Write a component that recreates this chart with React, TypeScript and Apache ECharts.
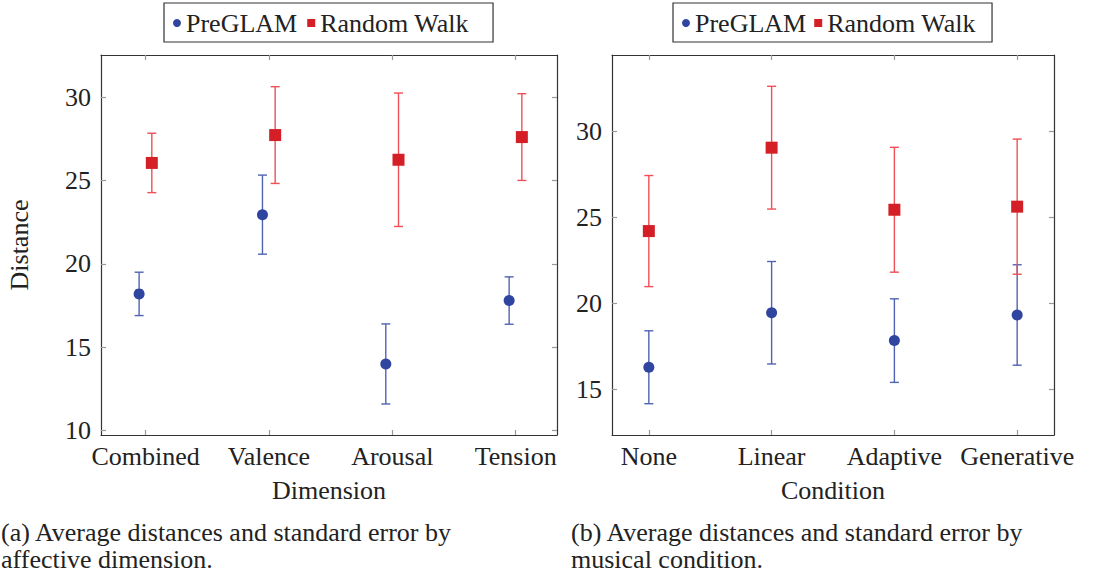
import React, { useEffect, useRef } from "react";
import * as echarts from "echarts";

// Panel (a): by affective dimension
const dimensionCategories = ["Combined", "Valence", "Arousal", "Tension"];
const preglamByDimension = [18.2, 22.95, 14.0, 17.8];
const preglamErrByDimension = [1.3, 2.37, 2.4, 1.42];
const randomByDimension = [26.05, 27.72, 26.24, 27.6];
const randomErrByDimension = [1.78, 2.9, 4.0, 2.6];

// Panel (b): by musical condition
const conditionCategories = ["None", "Linear", "Adaptive", "Generative"];
const preglamByCondition = [16.28, 19.45, 17.83, 19.32];
const preglamErrByCondition = [2.12, 2.98, 2.43, 2.92];
const randomByCondition = [24.2, 29.05, 25.44, 25.62];
const randomErrByCondition = [3.23, 3.57, 3.63, 3.93];

const yTicksA = [10, 15, 20, 25, 30];
const yTicksB = [15, 20, 25, 30];

const captionA = ["(a) Average distances and standard error by", "affective dimension."];
const captionB = ["(b) Average distances and standard error by", "musical condition."];

const FONT = "Liberation Serif";
const FS = 26;
const TEXT = "#222";
const BLUE = "#2f45a0";
const BLUE_BAR = "#4f63b2";
const RED = "#d41f27";
const RED_BAR = "#ef4f55";

const points = (vals: number[], shift: number) => vals.map((v, i) => [i + shift, v]);
const bars = (vals: number[], errs: number[], shift: number) =>
  vals.map((v, i) => [i + shift, v - errs[i], v + errs[i]]);

function errorBarRenderer(color: string) {
  return (params: any, api: any) => {
    const x = api.value(0);
    const hi = api.coord([x, api.value(2)]);
    const lo = api.coord([x, api.value(1)]);
    const cap = 4.5;
    const style = { stroke: color, lineWidth: 1.4 };
    return {
      type: "group",
      children: [
        { type: "line", shape: { x1: hi[0], y1: hi[1], x2: lo[0], y2: lo[1] }, style },
        { type: "line", shape: { x1: hi[0] - cap, y1: hi[1], x2: hi[0] + cap, y2: hi[1] }, style },
        { type: "line", shape: { x1: lo[0] - cap, y1: lo[1], x2: lo[0] + cap, y2: lo[1] }, style },
      ],
    };
  };
}

const tickStyle = { inside: true, length: 5, lineStyle: { color: "#999", width: 1.2 } };
const frameLine = { show: true, onZero: false, lineStyle: { color: "#333", width: 1.2 } };

function xAxes(gridIndex: number, min: number, max: number, cats: string[], name: string) {
  const ticks = cats.map((_, i) => i);
  return [
    {
      type: "value", gridIndex, min, max, position: "bottom",
      axisLine: frameLine,
      axisTick: { ...tickStyle, customValues: ticks },
      axisLabel: {
        fontFamily: FONT, fontSize: FS, color: TEXT, margin: 8,
        customValues: ticks, formatter: (v: number) => cats[Math.round(v)],
      },
      splitLine: { show: false },
      name, nameLocation: "middle", nameGap: 42,
      nameTextStyle: { fontFamily: FONT, fontSize: FS, color: TEXT },
    },
    {
      type: "value", gridIndex, min, max, position: "top",
      axisLine: frameLine,
      axisTick: { ...tickStyle, customValues: ticks },
      axisLabel: { show: false },
      splitLine: { show: false },
    },
  ];
}

function yAxes(gridIndex: number, min: number, max: number, ticks: number[], name?: string) {
  return [
    {
      type: "value", gridIndex, min, max, position: "left",
      axisLine: frameLine,
      axisTick: { ...tickStyle, customValues: ticks },
      axisLabel: { fontFamily: FONT, fontSize: FS, color: TEXT, margin: 10, customValues: ticks },
      splitLine: { show: false },
      name, nameLocation: "middle", nameGap: 69,
      nameTextStyle: { fontFamily: FONT, fontSize: FS, color: TEXT },
    },
    {
      type: "value", gridIndex, min, max, position: "right",
      axisLine: frameLine,
      axisTick: { ...tickStyle, customValues: ticks },
      axisLabel: { show: false },
      splitLine: { show: false },
    },
  ];
}

function panelSeries(
  xAxisIndex: number, yAxisIndex: number,
  pre: number[], preErr: number[], rnd: number[], rndErr: number[],
  preShift: number, rndShift: number
) {
  return [
    {
      type: "custom", name: "PreGLAM error", xAxisIndex, yAxisIndex, z: 2,
      renderItem: errorBarRenderer(BLUE_BAR), data: bars(pre, preErr, preShift),
    },
    {
      type: "custom", name: "Random Walk error", xAxisIndex, yAxisIndex, z: 2,
      renderItem: errorBarRenderer(RED_BAR), data: bars(rnd, rndErr, rndShift),
    },
    {
      type: "scatter", name: "PreGLAM", xAxisIndex, yAxisIndex, z: 3,
      symbol: "circle", symbolSize: 11, itemStyle: { color: BLUE, opacity: 1 },
      data: points(pre, preShift),
    },
    {
      type: "scatter", name: "Random Walk", xAxisIndex, yAxisIndex, z: 3,
      symbol: "rect", symbolSize: 12, itemStyle: { color: RED, opacity: 1 },
      data: points(rnd, rndShift),
    },
  ];
}

const legendBase = {
  top: 3,
  orient: "horizontal",
  data: [
    { name: "PreGLAM", icon: "circle" },
    { name: "Random Walk", icon: "rect" },
  ],
  itemWidth: 8,
  itemHeight: 8,
  borderColor: "#333",
  borderWidth: 1.2,
  textStyle: { fontFamily: FONT, fontSize: FS, color: TEXT },
  selectedMode: false,
};

function buildOption() {
  return {
    animation: false,
    legend: [
      { ...legendBase, left: 164, itemGap: 10, padding: [7, 24, 6, 9] },
      { ...legendBase, left: 673, itemGap: 8, padding: [7, 16, 6, 9] },
    ],
    grid: [
      { left: 101, top: 55, width: 456, height: 380 },
      { left: 612, top: 55, width: 442, height: 380 },
    ],
    xAxis: [
      ...xAxes(0, -0.362, 3.335, dimensionCategories, "Dimension"),
      ...xAxes(1, -0.3, 3.3, conditionCategories, "Condition"),
    ],
    yAxis: [
      ...yAxes(0, 9.74, 32.52, yTicksA, "Distance"),
      ...yAxes(1, 12.34, 34.44, yTicksB),
    ],
    series: [
      ...panelSeries(0, 0, preglamByDimension, preglamErrByDimension,
        randomByDimension, randomErrByDimension, -0.053, 0.05),
      ...panelSeries(2, 2, preglamByCondition, preglamErrByCondition,
        randomByCondition, randomErrByCondition, 0, 0),
    ],
  };
}

const captionBox = (left: number): React.CSSProperties => ({
  position: "absolute",
  left,
  top: 519,
  fontFamily: FONT,
  fontSize: 26,
  lineHeight: "27px",
  color: TEXT,
  whiteSpace: "nowrap",
});

export default function App() {
  const ref = useRef<HTMLDivElement>(null);

  useEffect(() => {
    if (!ref.current) return;
    const chart = echarts.init(ref.current, null, { renderer: "svg" });
    chart.setOption(buildOption());
    let alive = true;
    if (document.fonts && document.fonts.ready) {
      document.fonts.ready.then(() => {
        if (alive) chart.setOption(buildOption(), true);
      });
    }
    return () => {
      alive = false;
      chart.dispose();
    };
  }, []);

  return (
    <div style={{ position: "absolute", left: 0, top: 0, width: 1102, height: 575, background: "#fff" }}>
      <div ref={ref} style={{ position: "absolute", left: 0, top: 0, width: 1102, height: 575 }} />
      <div style={captionBox(1)}>
        {captionA.map((line) => <div key={line}>{line}</div>)}
      </div>
      <div style={captionBox(571)}>
        {captionB.map((line) => <div key={line}>{line}</div>)}
      </div>
    </div>
  );
}
